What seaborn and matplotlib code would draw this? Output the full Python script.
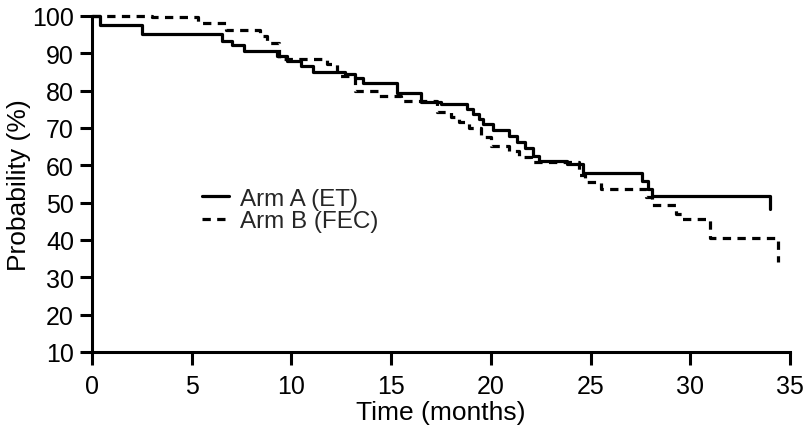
import numpy as np
import pandas as pd
import matplotlib
matplotlib.use("Agg")
import matplotlib.pyplot as plt
import seaborn as sns

# Arm A (ET) - solid
time_a = [0, 0.4, 2.5, 6.5, 7.0, 7.6, 9.3, 9.8, 10.5, 11.1, 12.7, 13.2, 13.6, 15.3,
          16.5, 17.5, 18.8, 19.1, 19.4, 19.6, 20.1, 20.9, 21.3, 21.7, 22.1, 22.4,
          23.8, 24.6, 27.6, 27.9, 28.1, 34.0]
surv_a = [100, 97.5, 95.3, 93.3, 92.3, 90.7, 89.4, 88.0, 86.7, 85.0, 84.4, 83.5, 82.0, 79.5,
          77.0, 76.4, 75.0, 73.7, 72.3, 71.0, 69.5, 67.8, 66.2, 64.6, 62.6, 61.2,
          60.4, 58.0, 55.8, 53.7, 51.8, 48.3]

# Arm B (FEC) - dashed
time_b = [0, 3.0, 5.3, 6.7, 8.4, 8.8, 9.4, 11.8, 12.3, 13.2, 14.4, 15.5, 17.3, 18.0,
          18.4, 18.9, 19.5, 20.0, 20.9, 21.4, 22.0, 24.4, 24.7, 25.5, 27.8, 28.1,
          29.3, 29.6, 31.0, 34.4]
surv_b = [100, 99.6, 98.1, 96.2, 94.6, 92.8, 88.5, 87.1, 84.0, 80.0, 78.5, 77.2, 74.2, 73.0,
          71.5, 70.0, 67.5, 65.3, 63.9, 62.1, 61.0, 57.5, 55.6, 53.7, 51.4, 49.4,
          47.0, 45.6, 40.5, 34.0]

arm_labels = ["Arm A (ET)", "Arm B (FEC)"]
x_ticks = [0, 5, 10, 15, 20, 25, 30, 35]
y_ticks = [10, 20, 30, 40, 50, 60, 70, 80, 90, 100]

df = pd.concat([
    pd.DataFrame({"Time": time_a, "Probability": surv_a, "Arm": arm_labels[0]}),
    pd.DataFrame({"Time": time_b, "Probability": surv_b, "Arm": arm_labels[1]}),
], ignore_index=True)

sns.set_theme(style="ticks")
plt.rcParams["font.family"] = ["Liberation Sans", "DejaVu Sans"]

fig = plt.figure(figsize=(8.08, 4.35), dpi=100)
ax = fig.add_axes([92 / 808, 1 - 353 / 435, (790 - 92) / 808, (353 - 17) / 435])

sns.lineplot(data=df, x="Time", y="Probability", style="Arm", color="black",
             dashes={arm_labels[0]: "", arm_labels[1]: (2.6, 2.0)},
             drawstyle="steps-post", estimator=None, sort=False,
             linewidth=2.3, ax=ax, legend=True)
for ln in ax.get_lines():
    ln.set_clip_on(False)

ax.set_xlim(0, 35)
ax.set_ylim(10, 100)
ax.set_xticks(x_ticks)
ax.set_yticks(y_ticks)
ax.tick_params(axis="both", labelsize=18, length=9, width=2.2, color="black",
               labelcolor="black")
ax.tick_params(axis="x", pad=7)
ax.tick_params(axis="y", pad=4)
for s in ["top", "right"]:
    ax.spines[s].set_visible(False)
for s in ["left", "bottom"]:
    ax.spines[s].set_linewidth(2.2)
    ax.spines[s].set_color("black")
ax.set_xlabel("Time (months)", fontsize=19, color="black", labelpad=1)
ax.set_ylabel("Probability (%)", fontsize=19, color="black", labelpad=1)

old = ax.get_legend()
handles = old.legend_handles
leg = ax.legend(handles=handles, labels=arm_labels, loc="center left",
                bbox_to_anchor=(202 / 808, 1 - 211 / 435), bbox_transform=fig.transFigure,
                frameon=False, fontsize=17.5, handlelength=1.1, handletextpad=0.45,
                labelspacing=0.0, borderpad=0, borderaxespad=0)
for h in leg.get_lines():
    h.set_linewidth(2.3)

fig.savefig("out.png", dpi=100)
